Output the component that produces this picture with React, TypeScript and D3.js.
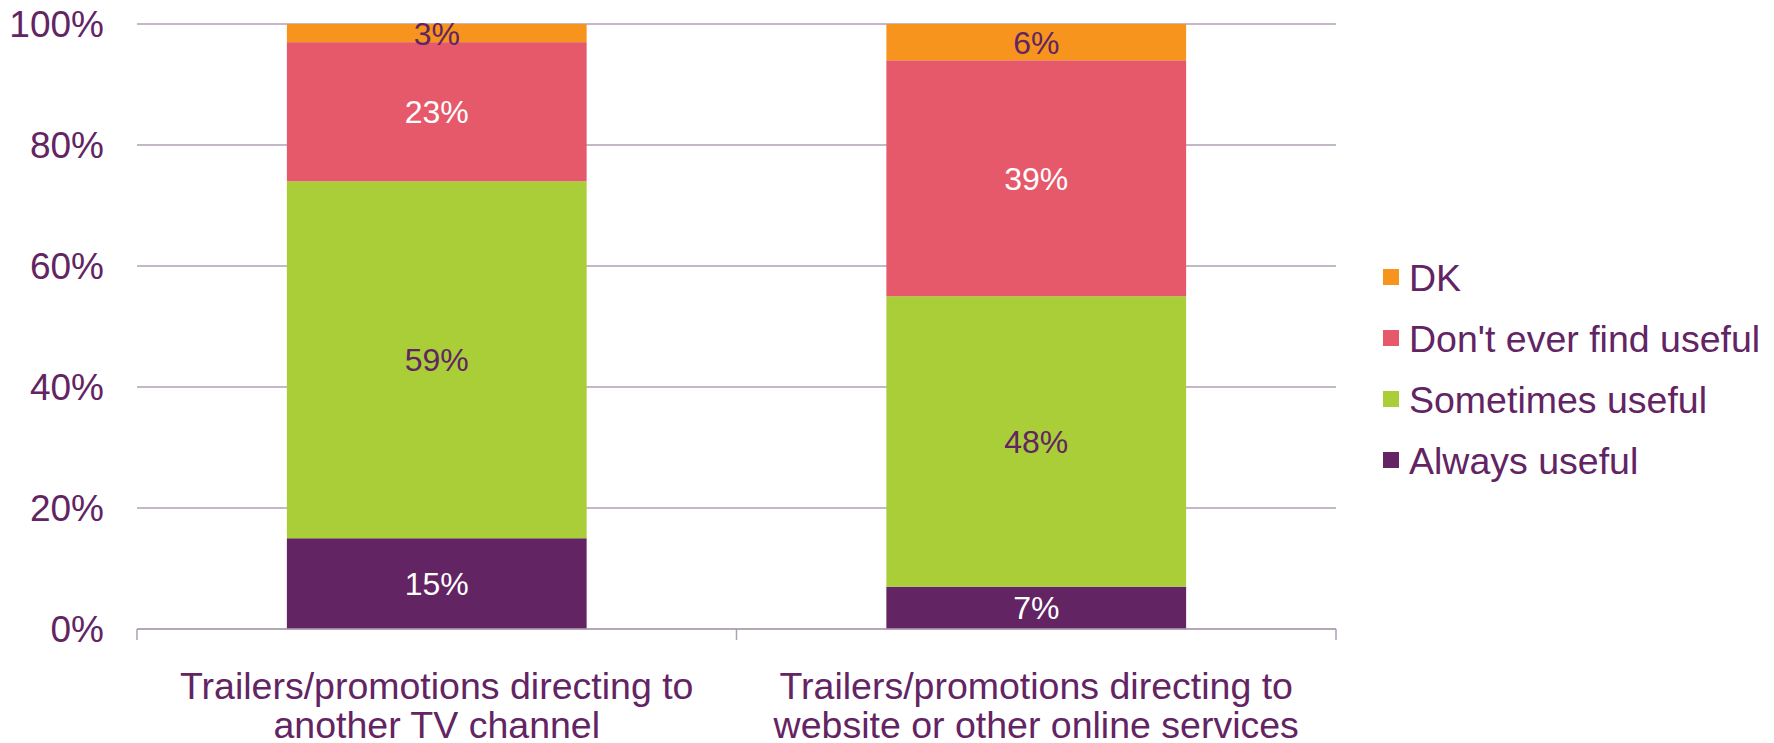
import React from "react";
import * as d3 from "d3";

const categories = [
  ["Trailers/promotions directing to", "another TV channel"],
  ["Trailers/promotions directing to", "website or other online services"],
];
const seriesNames = ["Always useful", "Sometimes useful", "Don't ever find useful", "DK"];
const alwaysUseful = [15, 7];
const sometimesUseful = [59, 48];
const dontEver = [23, 39];
const dk = [3, 6];
const yTicks = [0, 20, 40, 60, 80, 100];

const colors = ["#622463", "#A9CE38", "#E6596A", "#F7941D"];
const labelColors = ["#FFFFFF", "#622463", "#FFFFFF", "#622463"];
const textColor = "#622463";
const gridColor = "#B0A0B6";

export default function App() {
  const W = 1774, H = 743;
  const left = 137, right = 1336, top = 24, bottom = 629;
  const x = d3.scaleBand<number>().domain([0, 1]).range([left, right]).paddingInner(0.5).paddingOuter(0.25);
  const band = d3.scaleBand<number>().domain([0, 1]).range([left, right]);
  const y = d3.scaleLinear().domain([0, 100]).range([bottom, top]);
  const seriesValues = [alwaysUseful, sometimesUseful, dontEver, dk];
  const rows = categories.map((_, i) => {
    const r: any = { i };
    seriesNames.forEach((s, k) => (r[s] = seriesValues[k][i]));
    return r;
  });
  const stacked = d3.stack<any>().keys(seriesNames)(rows);
  const font = "'Liberation Sans', Arial, sans-serif";
  const legendOrder = [3, 2, 1, 0];

  return (
    <svg width={W} height={H} style={{ position: "absolute", left: 0, top: 0, background: "#fff" }} fontFamily={font}>
      {yTicks.map((t) => (
        <g key={t}>
          <line x1={left} x2={right} y1={y(t)} y2={y(t)} stroke={gridColor} strokeWidth={1.5} />
          <text x={104} y={y(t)} dy="0.36em" textAnchor="end" fontSize={37} fill={textColor}>
            {t}%
          </text>
        </g>
      ))}
      {stacked.map((s, k) => (
        <g key={s.key}>
          {s.map((d, i) => (
            <g key={i}>
              <rect
                x={x(i)!}
                width={x.bandwidth()}
                y={y(d[1])}
                height={y(d[0]) - y(d[1])}
                fill={colors[k]}
              />
              <text
                x={x(i)! + x.bandwidth() / 2}
                y={(y(d[0]) + y(d[1])) / 2}
                dy="0.36em"
                textAnchor="middle"
                fontSize={32}
                fill={labelColors[k]}
              >
                {d[1] - d[0]}%
              </text>
            </g>
          ))}
        </g>
      ))}
      <line x1={left} x2={right} y1={bottom} y2={bottom} stroke={gridColor} strokeWidth={1.5} />
      {[left, band(1)!, right].map((tx, i) => (
        <line key={i} x1={tx} x2={tx} y1={bottom} y2={bottom + 11} stroke={gridColor} strokeWidth={1.5} />
      ))}
      {categories.map((lines, i) => (
        <text key={i} textAnchor="middle" fontSize={37.5} fill={textColor}>
          {lines.map((l, j) => (
            <tspan key={j} x={band(i)! + band.bandwidth() / 2} y={699 + j * 39}>
              {l}
            </tspan>
          ))}
        </text>
      ))}
      {legendOrder.map((k, j) => (
        <g key={k} transform={`translate(1383, ${277 + j * 61})`}>
          <rect x={0} y={-8} width={16} height={16} fill={colors[k]} />
          <text x={26} y={0} dy="0.36em" fontSize={37.5} fill={textColor}>
            {seriesNames[k]}
          </text>
        </g>
      ))}
    </svg>
  );
}
